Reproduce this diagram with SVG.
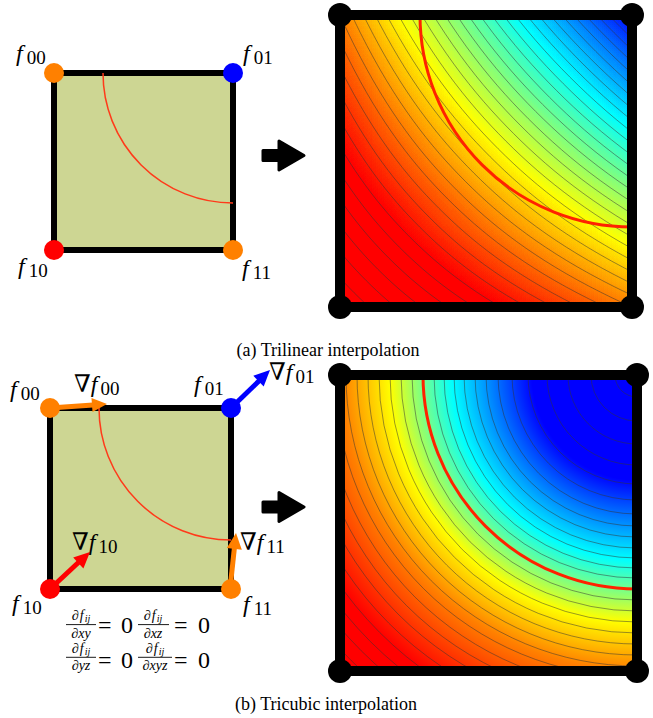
<svg xmlns="http://www.w3.org/2000/svg" width="653" height="718" viewBox="0 0 653 718">
<style>
text{font-family:"Liberation Serif","DejaVu Serif",serif;fill:#000}
.f{font-style:italic;font-size:24px}
.s{font-style:normal;font-size:19px}
.n{font-style:normal}
.cap{font-size:18px}
.cell{fill:#cdd693;stroke:#000;stroke-width:6}
.truth{fill:none;stroke:#ff3a1a;stroke-width:1.5}
.truth2{fill:none;stroke:#ff2200;stroke-width:3}
.border{fill:none;stroke:#000;stroke-width:10}
.iso{fill:none;stroke:#333;stroke-opacity:0.5;stroke-width:1}
.big{fill:#000;stroke:#000;stroke-width:3;stroke-linejoin:round}
.frac{font-size:14px}
.sb{font-style:italic;font-size:10px}
.eq{font-size:24px;font-style:normal}
.bar{stroke:#000;stroke-width:0.9}
</style>
<defs>
<linearGradient id="gU" x1="0" y1="0" x2="1" y2="0"><stop offset="0" stop-color="#717171"/><stop offset="1" stop-color="#fff"/></linearGradient>
<linearGradient id="gV" x1="0" y1="0" x2="0" y2="1"><stop offset="0" stop-color="#fff"/><stop offset="1" stop-color="#717171"/></linearGradient>
<radialGradient id="gR" gradientUnits="userSpaceOnUse" cx="637" cy="375" r="420">
<stop offset="0" stop-color="#0000ff"/>
<stop offset="0.25" stop-color="#0000ff"/>
<stop offset="0.345" stop-color="#0080ff"/>
<stop offset="0.44" stop-color="#00ffff"/>
<stop offset="0.517" stop-color="#80ff80"/>
<stop offset="0.588" stop-color="#ffff00"/>
<stop offset="0.702" stop-color="#ff8000"/>
<stop offset="0.869" stop-color="#ff0000"/>
<stop offset="1" stop-color="#ff0000"/>
</radialGradient>
<filter id="fT" filterUnits="userSpaceOnUse" x="40" y="15" width="592" height="292" color-interpolation-filters="sRGB">
<feOffset in="SourceGraphic" dx="300" dy="0" result="v"/>
<feBlend in="SourceGraphic" in2="v" mode="multiply" result="p"/>
<feComponentTransfer in="p">
<feFuncR type="table" tableValues="1 1 1 1 1 1 0.5 0 0 0"/>
<feFuncG type="table" tableValues="0 0 0 0 0.5 1 1 1 0.5 0"/>
<feFuncB type="table" tableValues="0 0 0 0 0 0 0.5 1 1 1"/>
</feComponentTransfer>
</filter>
<clipPath id="cT"><rect x="340" y="15" width="292" height="292"/></clipPath>
<clipPath id="cB"><rect x="340" y="375" width="297" height="296"/></clipPath>
<path id="hyp" vector-effect="non-scaling-stroke" d="M0.35355,2.82843 C0.40237,2.4379 0.45118,2.19526 0.5,2 C0.56904,1.72386 0.63807,1.55228 0.70711,1.41421 C0.80474,1.21895 0.90237,1.09763 1,1 C1.09763,0.90237 1.21895,0.80474 1.41421,0.70711 C1.55228,0.63807 1.72386,0.56904 2,0.5 C2.19526,0.45118 2.4379,0.40237 2.82843,0.35355"/>
</defs>

<g id="cell-trilinear">
<rect class="cell" x="54" y="73" width="179" height="177"/>
<path class="truth" d="M103,73 A130,130 0 0 0 233,203"/>
<circle cx="54" cy="73" r="10" fill="#ff8000"/>
<circle cx="233" cy="73" r="10" fill="#0000ff"/>
<circle cx="54" cy="250" r="10" fill="#ff0000"/>
<circle cx="233" cy="250" r="10" fill="#ff8000"/>
<text class="f" x="16" y="60.5">f<tspan class="s" dx="4" dy="3">00</tspan></text>
<text class="f" x="243" y="60.5">f<tspan class="s" dx="4" dy="3">01</tspan></text>
<text class="f" x="18" y="273.5">f<tspan class="s" dx="4" dy="3">10</tspan></text>
<text class="f" x="242" y="275.5">f<tspan class="s" dx="4" dy="3">11</tspan></text>
</g>

<g id="heat-trilinear">
<g clip-path="url(#cT)" filter="url(#fT)">
<rect x="340" y="15" width="292" height="292" fill="url(#gU)"/>
<rect x="40" y="15" width="292" height="292" fill="url(#gV)"/>
</g>
<g clip-path="url(#cT)" class="iso"><g transform="translate(106.4 540.6)">
<use href="#hyp" transform="scale(519.7,-519.7)"/>
<use href="#hyp" transform="scale(513.8,-513.8)"/>
<use href="#hyp" transform="scale(507.8,-507.8)"/>
<use href="#hyp" transform="scale(501.7,-501.7)"/>
<use href="#hyp" transform="scale(495.5,-495.5)"/>
<use href="#hyp" transform="scale(489.3,-489.3)"/>
<use href="#hyp" transform="scale(483.0,-483.0)"/>
<use href="#hyp" transform="scale(476.6,-476.6)"/>
<use href="#hyp" transform="scale(470.1,-470.1)"/>
<use href="#hyp" transform="scale(463.5,-463.5)"/>
<use href="#hyp" transform="scale(456.9,-456.9)"/>
<use href="#hyp" transform="scale(450.1,-450.1)"/>
<use href="#hyp" transform="scale(443.2,-443.2)"/>
<use href="#hyp" transform="scale(436.2,-436.2)"/>
<use href="#hyp" transform="scale(429.2,-429.2)"/>
<use href="#hyp" transform="scale(421.9,-421.9)"/>
<use href="#hyp" transform="scale(414.6,-414.6)"/>
<use href="#hyp" transform="scale(407.1,-407.1)"/>
<use href="#hyp" transform="scale(399.5,-399.5)"/>
<use href="#hyp" transform="scale(391.8,-391.8)"/>
<use href="#hyp" transform="scale(383.8,-383.8)"/>
<use href="#hyp" transform="scale(375.8,-375.8)"/>
<use href="#hyp" transform="scale(367.5,-367.5)"/>
<use href="#hyp" transform="scale(359.1,-359.1)"/>
<use href="#hyp" transform="scale(350.4,-350.4)"/>
<use href="#hyp" transform="scale(341.5,-341.5)"/>
<use href="#hyp" transform="scale(332.4,-332.4)"/>
<use href="#hyp" transform="scale(323.1,-323.1)"/>
<use href="#hyp" transform="scale(313.4,-313.4)"/>
<use href="#hyp" transform="scale(303.5,-303.5)"/>
<use href="#hyp" transform="scale(293.2,-293.2)"/>
<use href="#hyp" transform="scale(282.5,-282.5)"/>
<use href="#hyp" transform="scale(271.4,-271.4)"/>
<use href="#hyp" transform="scale(259.9,-259.9)"/>
<use href="#hyp" transform="scale(247.8,-247.8)"/>
</g></g>
<path class="truth2" d="M420,15 A212,212 0 0 0 632,227"/>
<rect class="border" x="340" y="15" width="292" height="292"/>
<circle cx="340" cy="15" r="12"/>
<circle cx="632" cy="15" r="12"/>
<circle cx="340" cy="307" r="12"/>
<circle cx="632" cy="307" r="12"/>
</g>

<g id="cell-tricubic">
<rect class="cell" x="50" y="408" width="181" height="181"/>
<path class="truth" d="M99,408 A132,132 0 0 0 231,540"/>
<line x1="50" y1="408" x2="93" y2="405" stroke="#ff8000" stroke-width="5"/>
<polygon points="107,404 92.5,412 91.5,398.1" fill="#ff8000"/>
<line x1="231" y1="408" x2="260" y2="380" stroke="#0000ff" stroke-width="5"/>
<polygon points="270,370 263.7,386.6 253.3,375.8" fill="#0000ff"/>
<line x1="50" y1="589" x2="80" y2="561" stroke="#ff0000" stroke-width="5"/>
<polygon points="90,552 83.4,568.4 73.2,557.4" fill="#ff0000"/>
<line x1="230" y1="589" x2="234.5" y2="547" stroke="#ff8000" stroke-width="5"/>
<polygon points="236,533 241.8,549.7 226.8,548.1" fill="#ff8000"/>
<circle cx="50" cy="408" r="10" fill="#ff8000"/>
<circle cx="231" cy="408" r="10" fill="#0000ff"/>
<circle cx="50" cy="589" r="10" fill="#ff0000"/>
<circle cx="231" cy="589" r="10" fill="#ff8000"/>
<text class="f" x="10" y="397">f<tspan class="s" dx="4" dy="3">00</tspan></text>
<text class="f" x="194" y="392">f<tspan class="s" dx="4" dy="3">01</tspan></text>
<text class="f" x="12" y="611">f<tspan class="s" dx="4" dy="3">10</tspan></text>
<text class="f" x="243" y="612">f<tspan class="s" dx="4" dy="3">11</tspan></text>
<text class="f" x="74" y="392"><tspan class="n">∇</tspan>f<tspan class="s" dx="3" dy="3">00</tspan></text>
<text class="f" x="269" y="380" font-size="22"><tspan class="n">∇</tspan>f<tspan class="s" font-size="17" dx="3" dy="3">01</tspan></text>
<text class="f" x="72" y="550"><tspan class="n">∇</tspan>f<tspan class="s" dx="3" dy="3">10</tspan></text>
<text class="f" x="240" y="550"><tspan class="n">∇</tspan>f<tspan class="s" dx="3" dy="3">11</tspan></text>
</g>

<g id="cross-derivatives">
<text class="frac" x="81" y="620" text-anchor="middle">∂<tspan font-style="italic" dx="1">f</tspan><tspan class="sb" dx="1" dy="2">ij</tspan></text>
<line class="bar" x1="66" y1="624.6" x2="96" y2="624.6"/>
<text class="frac" x="81" y="637.5" text-anchor="middle">∂<tspan font-style="italic">xy</tspan></text>
<text class="eq" x="98" y="633">=</text><text class="eq" x="121" y="633">0</text>
<text class="frac" x="153" y="620" text-anchor="middle">∂<tspan font-style="italic" dx="1">f</tspan><tspan class="sb" dx="1" dy="2">ij</tspan></text>
<line class="bar" x1="138" y1="624.6" x2="169" y2="624.6"/>
<text class="frac" x="153" y="637.5" text-anchor="middle">∂<tspan font-style="italic">xz</tspan></text>
<text class="eq" x="174" y="633">=</text><text class="eq" x="198" y="633">0</text>
<text class="frac" x="81" y="653" text-anchor="middle">∂<tspan font-style="italic" dx="1">f</tspan><tspan class="sb" dx="1" dy="2">ij</tspan></text>
<line class="bar" x1="66" y1="657.3" x2="96" y2="657.3"/>
<text class="frac" x="81" y="670" text-anchor="middle">∂<tspan font-style="italic">yz</tspan></text>
<text class="eq" x="98" y="668">=</text><text class="eq" x="121" y="668">0</text>
<text class="frac" x="155" y="653" text-anchor="middle">∂<tspan font-style="italic" dx="1">f</tspan><tspan class="sb" dx="1" dy="2">ij</tspan></text>
<line class="bar" x1="138" y1="657.3" x2="172" y2="657.3"/>
<text class="frac" x="155" y="670" text-anchor="middle">∂<tspan font-style="italic">xyz</tspan></text>
<text class="eq" x="174" y="668">=</text><text class="eq" x="198" y="668">0</text>
</g>

<g id="heat-tricubic">
<rect x="340" y="375" width="297" height="296" fill="url(#gR)"/>
<g clip-path="url(#cB)" class="iso">
<circle cx="637" cy="375" r="22"/><circle cx="637" cy="375" r="46"/><circle cx="637" cy="375" r="69"/><circle cx="637" cy="375" r="90"/>
<circle cx="637" cy="375" r="109"/><circle cx="637" cy="375" r="125"/><circle cx="637" cy="375" r="139"/><circle cx="637" cy="375" r="151"/>
<circle cx="637" cy="375" r="162"/><circle cx="637" cy="375" r="173"/><circle cx="637" cy="375" r="183"/><circle cx="637" cy="375" r="193"/>
<circle cx="637" cy="375" r="203"/><circle cx="637" cy="375" r="225"/><circle cx="637" cy="375" r="236"/><circle cx="637" cy="375" r="247"/>
<circle cx="637" cy="375" r="258"/><circle cx="637" cy="375" r="269"/><circle cx="637" cy="375" r="280"/><circle cx="637" cy="375" r="291"/>
<circle cx="637" cy="375" r="302"/><circle cx="637" cy="375" r="314"/><circle cx="637" cy="375" r="326"/><circle cx="637" cy="375" r="338"/>
<circle cx="637" cy="375" r="351"/><circle cx="637" cy="375" r="364"/><circle cx="637" cy="375" r="377"/><circle cx="637" cy="375" r="390"/>
<circle cx="637" cy="375" r="404"/>
</g>
<path class="truth2" d="M423,375 A214,214 0 0 0 637,589"/>
<rect class="border" x="340" y="375" width="297" height="296"/>
<circle cx="340" cy="375" r="12"/>
<circle cx="637" cy="375" r="12"/>
<circle cx="340" cy="671" r="12"/>
<circle cx="637" cy="671" r="12"/>
</g>

<g id="connectors">
<polygon class="big" points="263,150.5 279,150.5 279,141 304,155.5 279,170 279,160.5 263,160.5"/>
<polygon class="big" points="263,502 279,502 279,492.5 304,507 279,521.5 279,512 263,512"/>
</g>

<text class="cap" x="328" y="355.5" text-anchor="middle">(a) Trilinear interpolation</text>
<text class="cap" x="326" y="710" text-anchor="middle">(b) Tricubic interpolation</text>
</svg>
